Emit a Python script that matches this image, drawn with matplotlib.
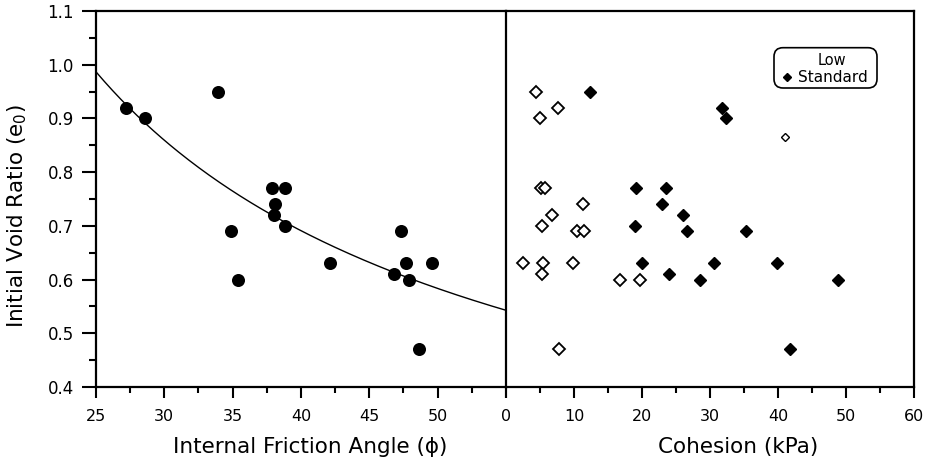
import numpy as np
import matplotlib
matplotlib.use("Agg")
import matplotlib.pyplot as plt
from matplotlib.patches import FancyBboxPatch
from matplotlib.ticker import MultipleLocator, FixedLocator, FixedFormatter

# ---- data -------------------------------------------------------------
# friction angle (deg) vs initial void ratio
phi = [27.2, 28.6, 33.9, 37.9, 38.8, 38.1, 38.0, 38.8, 34.9, 35.4,
       42.1, 47.3, 47.7, 49.6, 46.8, 47.9, 48.6]
e_phi = [0.92, 0.90, 0.95, 0.77, 0.77, 0.74, 0.72, 0.70, 0.69, 0.60,
         0.63, 0.69, 0.63, 0.63, 0.61, 0.60, 0.47]

# power-law fit  e0 = a * phi^b
fit_a = 11.32
fit_b = -0.758

# cohesion (kPa) vs initial void ratio, two compaction levels
coh_low = [4.4, 7.7, 5.0, 5.2, 5.7, 11.3, 6.8, 5.3, 10.4, 11.4,
           2.5, 5.5, 5.3, 9.8, 16.7, 19.7, 7.8]
e_low = [0.95, 0.92, 0.90, 0.77, 0.77, 0.74, 0.72, 0.70, 0.69, 0.69,
         0.63, 0.63, 0.61, 0.63, 0.60, 0.60, 0.47]
coh_std = [12.3, 31.8, 32.4, 19.1, 23.5, 22.9, 26.0, 26.6, 19.0, 20.0,
           24.0, 28.5, 35.3, 30.6, 39.8, 48.8, 41.7]
e_std = [0.95, 0.92, 0.90, 0.77, 0.77, 0.74, 0.72, 0.69, 0.70, 0.63,
         0.61, 0.60, 0.69, 0.63, 0.63, 0.60, 0.47]
# stray key symbol for the "Low" series
low_key = (41.1, 0.865)

phi_ticks = [25, 30, 35, 40, 45, 50, 55]
phi_labels = ["25", "30", "35", "40", "45", "50", ""]
coh_ticks = [0, 10, 20, 30, 40, 50, 60]
y_ticks = [0.4, 0.5, 0.6, 0.7, 0.8, 0.9, 1.0, 1.1]

# ---- figure -----------------------------------------------------------
W, H = 928, 463
fig = plt.figure(figsize=(W / 100, H / 100), dpi=100)
plt.rcParams["font.family"] = ["DejaVu Sans"]

bottom = (H - 387) / H
height = 376 / H
axL = fig.add_axes([96 / W, bottom, 410 / W, height])
axR = fig.add_axes([506 / W, bottom, 408 / W, height])

for ax in (axL, axR):
    ax.set_ylim(0.4, 1.1)
    for s in ax.spines.values():
        s.set_linewidth(1.6)

# left panel: friction angle
axL.set_xlim(25, 55)
axL.scatter(phi, e_phi, s=88, color="black", zorder=3, linewidths=0)
xf = np.linspace(25, 55, 200)
axL.plot(xf, fit_a * xf ** fit_b, color="black", lw=1.0, zorder=2)
axL.spines["right"].set_visible(False)
axL.xaxis.set_major_locator(FixedLocator(phi_ticks))
axL.xaxis.set_major_formatter(FixedFormatter(phi_labels))
axL.xaxis.set_minor_locator(MultipleLocator(2.5))
axL.yaxis.set_major_locator(FixedLocator(y_ticks))
axL.yaxis.set_minor_locator(MultipleLocator(0.05))
axL.set_yticklabels([f"{v:.1f}" for v in y_ticks])
axL.tick_params(axis="x", which="major", direction="out", length=8, width=1.5,
                pad=8, labelsize=11.5)
axL.tick_params(axis="x", which="minor", direction="out", length=4, width=1.5)
axL.tick_params(axis="y", which="major", direction="out", length=10, width=1.5,
                pad=6, labelsize=12)
axL.tick_params(axis="y", which="minor", direction="out", length=5, width=1.5)
axL.set_xlabel("Internal Friction Angle (ϕ)", fontsize=15.5)
axL.xaxis.set_label_coords(0.522, -0.134)
axL.xaxis.label.set_va("top")
axL.set_ylabel(r"Initial Void Ratio (e$_\mathregular{0}$)", fontsize=15.5)
axL.yaxis.set_label_coords(-0.163, 0.455)

# right panel: cohesion
axR.set_xlim(0, 60)
axR.plot(coh_low, e_low, ls="none", marker="D", ms=6.4, mfc="white",
         mec="black", mew=1.3, zorder=3)
axR.plot(coh_std, e_std, ls="none", marker="D", ms=6.6, mfc="black",
         mec="black", mew=1.0, zorder=3)
axR.plot([low_key[0]], [low_key[1]], ls="none", marker="D", ms=3.8,
         mfc="white", mec="black", mew=1.0, zorder=3)
axR.xaxis.set_major_locator(FixedLocator(coh_ticks))
axR.xaxis.set_minor_locator(FixedLocator([5, 15, 25, 35, 45, 55]))
axR.set_yticks([])
axR.tick_params(axis="x", which="major", direction="out", length=8, width=1.5,
                pad=8, labelsize=11.5)
axR.tick_params(axis="x", which="minor", direction="out", length=4, width=1.5)
axR.set_xlabel("Cohesion (kPa)", fontsize=15.5)
axR.xaxis.set_label_coords(0.569, -0.134)
axR.xaxis.label.set_va("top")

# key box
bx0, bx1 = (774 - 506) / 408, (877 - 506) / 408
by0, by1 = (H - 88 - 76) / 376, (H - 47.7 - 76) / 376
box = FancyBboxPatch((bx0, by0), bx1 - bx0, by1 - by0,
                     boxstyle="round,pad=0,rounding_size=0.022",
                     mutation_aspect=408 / 376, transform=axR.transAxes,
                     fc="white", ec="black", lw=1.2, zorder=4)
axR.add_patch(box)
axR.text((818 - 506) / 408, (H - 60.5 - 76) / 376, "Low", transform=axR.transAxes,
         fontsize=10.5, va="center", ha="left", zorder=5)
axR.plot([(787 - 506) / 408], [(H - 77 - 76) / 376], transform=axR.transAxes,
         marker="D", ms=4.2, color="black", ls="none", zorder=5, clip_on=False)
axR.text((798 - 506) / 408, (H - 77 - 76) / 376, "Standard", transform=axR.transAxes,
         fontsize=11, va="center", ha="left", zorder=5)

fig.savefig("out.png", dpi=100)
